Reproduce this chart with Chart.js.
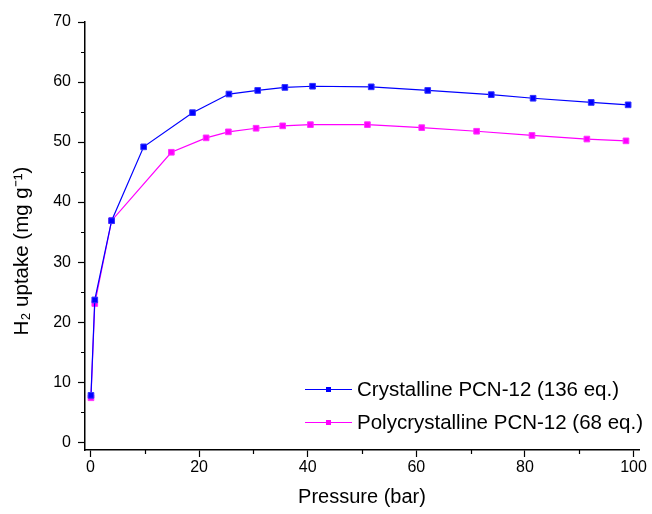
<!DOCTYPE html>
<html><head><meta charset="utf-8">
<script src="https://cdn.jsdelivr.net/npm/chart.js@4/dist/chart.umd.min.js"></script>
<style>html,body{margin:0;padding:0;background:#fff}#wrap{width:652px;height:514px}</style>
</head><body><div id="wrap"><canvas id="c" width="652" height="514"></canvas></div>
<script>
const crystP = [0.1,0.8,3.9,9.8,18.8,25.5,30.8,35.8,40.9,51.7,62.1,73.8,81.5,92.2,99.0];
const crystU = [7.8,23.7,36.9,49.2,54.9,58.0,58.6,59.1,59.3,59.2,58.6,57.9,57.3,56.6,56.2];
const polyP = [0.1,0.8,3.9,14.9,21.3,25.4,30.5,35.4,40.5,51.0,61.0,71.1,81.3,91.4,98.6];
const polyU = [7.4,23.1,36.9,48.3,50.7,51.7,52.3,52.7,52.9,52.9,52.4,51.8,51.1,50.5,50.2];
const seriesNames = ['Crystalline PCN-12 (136 eq.)','Polycrystalline PCN-12 (68 eq.)'];
const xTitle = 'Pressure (bar)';
const yTitle = 'H₂ uptake (mg g⁻¹)';
const xMajor = [0,20,40,60,80,100];
const xMinor = [10,30,50,70,90];
const yMajor = [0,10,20,30,40,50,60,70];
const yMinor = [5,15,25,35,45,55,65];

const FONT = 'Liberation Sans, Arial, sans-serif';
const toPts = (xs, ys) => xs.map((x,i)=>({x:x,y:ys[i]}));

const minorTicks = {
  id:'minorTicks',
  afterDraw(chart){
    const ctx = chart.ctx, xs = chart.scales.x, ys = chart.scales.y;
    ctx.save();
    ctx.strokeStyle = '#000'; ctx.lineWidth = 1.2;
    ctx.beginPath();
    xMinor.forEach(v=>{const p=Math.round(xs.getPixelForValue(v))+0.5; ctx.moveTo(p, xs.top); ctx.lineTo(p, xs.top+4);});
    yMinor.forEach(v=>{const p=Math.round(ys.getPixelForValue(v))+0.5; ctx.moveTo(ys.right, p); ctx.lineTo(ys.right-4, p);});
    ctx.stroke();
    ctx.restore();
  }
};

const yTitlePlugin = {
  id:'yTitle',
  afterDraw(chart){
    const ctx = chart.ctx, ys = chart.scales.y;
    ctx.save();
    ctx.translate(22, (ys.top + ys.bottom)/2 + 15);
    ctx.rotate(-Math.PI/2);
    ctx.fillStyle = '#000';
    ctx.font = '20.5px ' + FONT;
    ctx.textAlign = 'center';
    ctx.textBaseline = 'middle';
    ctx.fillText(yTitle, 0, 0);
    ctx.restore();
  }
};

const legendPlugin = {
  id:'customLegend',
  afterDraw(chart){
    const ctx = chart.ctx;
    ctx.save();
    const rows = [389, 422];
    chart.data.datasets.forEach((ds,i)=>{
      const y = rows[i];
      ctx.strokeStyle = ds.borderColor; ctx.lineWidth = 1.2;
      ctx.beginPath(); ctx.moveTo(305, y+0.5); ctx.lineTo(352, y+0.5); ctx.stroke();
      ctx.fillStyle = ds.backgroundColor;
      ctx.fillRect(326, y-2, 5, 5);
      ctx.fillStyle = '#000';
      ctx.font = '20.5px ' + FONT;
      ctx.textBaseline = 'middle';
      ctx.fillText(ds.label, 357, y+1);
    });
    ctx.restore();
  }
};

new Chart(document.getElementById('c'), {
  type:'line',
  data:{
    datasets:[
      {label:seriesNames[0], data:toPts(crystP,crystU), borderColor:'#0000ff', backgroundColor:'#0000ff',
       borderWidth:1.2, pointStyle:'rect', pointRadius:4, pointBorderWidth:1, pointBorderColor:'#3333ff', tension:0},
      {label:seriesNames[1], data:toPts(polyP,polyU), borderColor:'#ff00ff', backgroundColor:'#ff00ff',
       borderWidth:1.2, pointStyle:'rect', pointRadius:4, pointBorderWidth:1, pointBorderColor:'#ff33ff', tension:0}
    ]
  },
  options:{
    responsive:false, animation:false, devicePixelRatio:1,
    layout:{padding:{top:22,right:13,left:0,bottom:0}},
    plugins:{legend:{display:false}, tooltip:{enabled:false}},
    scales:{
      x:{type:'linear', min:-1, max:101,
        afterBuildTicks:s=>{s.ticks = xMajor.map(v=>({value:v}));},
        afterFit:s=>{s.height = 64;},
        grid:{display:true, drawOnChartArea:false, drawTicks:true, tickLength:7, tickColor:'#000', tickWidth:1.2},
        border:{display:true, color:'#000', width:1.5},
        ticks:{color:'#000', font:{family:FONT, size:16}, padding:1, maxRotation:0},
        title:{display:true, text:xTitle, color:'#000', font:{family:FONT, size:20}, padding:{bottom:5, top:0}}
      },
      y:{type:'linear', min:-1.3, max:70,
        afterBuildTicks:s=>{s.ticks = yMajor.map(v=>({value:v}));},
        afterFit:s=>{s.width = 85;},
        grid:{display:true, drawOnChartArea:false, drawTicks:true, tickLength:7, tickColor:'#000', tickWidth:1.2},
        border:{display:true, color:'#000', width:1.5},
        ticks:{color:'#000', font:{family:FONT, size:16}, padding:7},
        title:{display:false}
      }
    }
  },
  plugins:[minorTicks, legendPlugin, yTitlePlugin]
});
</script></body></html>
